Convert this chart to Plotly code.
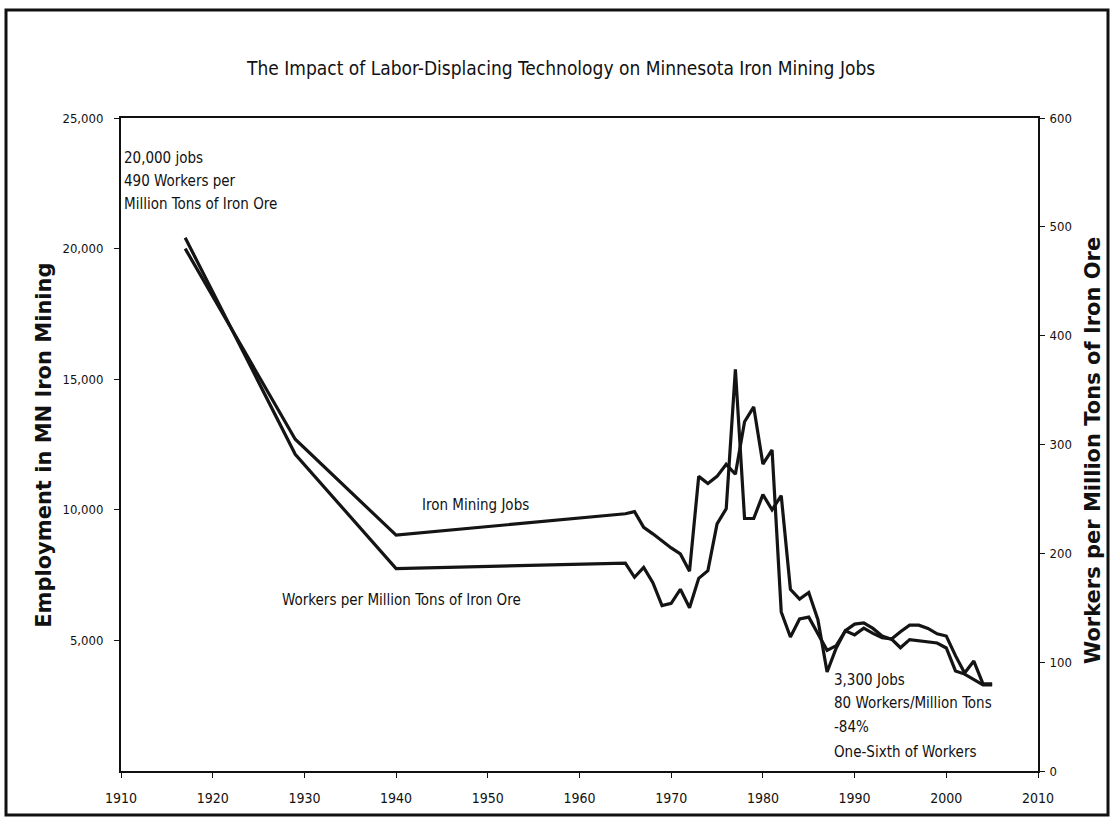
import plotly.graph_objects as go

# Minnesota iron mining employment (left axis)
job_years = [1917, 1929, 1940, 1965, 1966, 1967, 1968, 1969, 1970, 1971, 1972, 1973, 1974,
             1975, 1976, 1977, 1978, 1979, 1980, 1981, 1982, 1983, 1984, 1985, 1986, 1987,
             1988, 1989, 1990, 1991, 1992, 1993, 1994, 1995, 1996, 1997, 1998, 1999, 2000,
             2001, 2002, 2003, 2004, 2005]
jobs = [20000, 12700, 9030, 9850, 9930, 9330, 9080, 8810, 8540, 8310, 7650, 11280, 11010,
        11280, 11740, 11360, 13370, 13940, 11750, 12290, 6090, 5130, 5820, 5890, 5250, 4620,
        4800, 5370, 5210, 5470, 5270, 5100, 5060, 4720, 5030, 4980, 4940, 4900, 4710,
        3830, 3710, 3520, 3300, 3300]

# Workers per million tons of iron ore (right axis)
wpm_years = [1917, 1929, 1940, 1965, 1966, 1967, 1968, 1969, 1970, 1971, 1972, 1973, 1974,
             1975, 1976, 1977, 1978, 1979, 1980, 1981, 1982, 1983, 1984, 1985, 1986, 1987,
             1988, 1989, 1990, 1991, 1992, 1993, 1994, 1995, 1996, 1997, 1998, 1999, 2000,
             2001, 2002, 2003, 2004, 2005]
workers_per_mt = [490, 291, 186, 191, 178, 187, 173, 152, 154, 167, 150, 177, 184,
                  227, 241, 369, 232, 232, 254, 240, 253, 167, 158, 164, 139, 91,
                  113, 129, 135, 136, 131, 124, 121, 128, 134, 134, 131, 126, 124,
                  106, 90, 101, 80, 80]

x_ticks = [1910, 1920, 1930, 1940, 1950, 1960, 1970, 1980, 1990, 2000, 2010]
left_ticks = [5000, 10000, 15000, 20000, 25000]
left_tick_text = ["5,000", "10,000", "15,000", "20,000", "25,000"]
right_ticks = [0, 100, 200, 300, 400, 500, 600]

NARROW = "Liberation Sans Narrow, Arial Narrow, DejaVu Sans Condensed, sans-serif"
WIDE_BOLD = "DejaVu Sans, Verdana, sans-serif"
INK = "#141414"

fig = go.Figure()
fig.add_trace(go.Scatter(x=job_years, y=jobs, mode="lines", name="Iron Mining Jobs",
                         line=dict(color=INK, width=3.2), yaxis="y"))
fig.add_trace(go.Scatter(x=wpm_years, y=workers_per_mt, mode="lines",
                         name="Workers per Million Tons of Iron Ore",
                         line=dict(color=INK, width=3.2), yaxis="y2"))

tick_font = dict(family=NARROW, size=13, color="#111")

fig.update_layout(
    width=1111, height=826,
    margin=dict(l=121, r=73, t=118, b=55),
    paper_bgcolor="white", plot_bgcolor="white",
    showlegend=False,
    xaxis=dict(range=[1910, 2010], tickvals=x_ticks, ticks="outside", ticklen=5,
               tickcolor="#111", showline=True, linecolor="#111", linewidth=2,
               mirror=True, showgrid=False, zeroline=False,
               tickfont=dict(family=NARROW, size=14, color="#111"),
               ticklabelstandoff=8),
    yaxis=dict(range=[0, 25000], tickvals=left_ticks, ticktext=left_tick_text,
               ticks="outside", ticklen=5, tickcolor="#111", showline=True,
               linecolor="#111", linewidth=2, showgrid=False, zeroline=False,
               tickfont=tick_font, ticklabelstandoff=8),
    yaxis2=dict(range=[0, 600], tickvals=right_ticks, overlaying="y", side="right",
                ticks="outside", ticklen=5, tickcolor="#111", showline=True,
                linecolor="#111", linewidth=2, showgrid=False, zeroline=False,
                tickfont=tick_font, ticklabelstandoff=2),
)

annotations = [
    dict(text="The Impact of Labor-Displacing Technology on Minnesota Iron Mining Jobs",
         xref="paper", yref="paper", x=0.479, y=1.096, showarrow=False,
         xanchor="center", font=dict(family=NARROW, size=19, color="#111")),
    dict(text="<b>Employment in MN Iron Mining</b>", xref="paper", yref="paper",
         x=(44 - 121) / 917, y=0.498, textangle=-90, showarrow=False,
         xanchor="center", yanchor="middle",
         font=dict(family=WIDE_BOLD, size=21, color="#111")),
    dict(text="<b>Workers per Million Tons of Iron Ore</b>", xref="paper", yref="paper",
         x=(1093 - 121) / 917, y=0.49, textangle=-90, showarrow=False,
         xanchor="center", yanchor="middle",
         font=dict(family=WIDE_BOLD, size=21, color="#111")),
]

text_font = dict(family=NARROW, size=15, color="#111")
notes = [
    ("20,000 jobs", 1910.1, 23470),
    ("490 Workers per", 1910.1, 22590),
    ("Million Tons of Iron Ore", 1910.1, 21710),
    ("Iron Mining Jobs", 1942.6, 10180),
    ("Workers per Million Tons of Iron Ore", 1927.3, 6550),
    ("3,300 Jobs", 1987.5, 3480),
    ("80 Workers/Million Tons", 1987.5, 2600),
    ("-84%", 1987.5, 1690),
    ("One-Sixth of Workers", 1987.5, 730),
]
for txt, xv, yv in notes:
    annotations.append(dict(text=txt, x=xv, y=yv, xref="x", yref="y", xanchor="left",
                            yanchor="middle", showarrow=False, font=text_font))

fig.update_layout(annotations=annotations)

# outer frame around the whole chart
fig.add_shape(type="rect", xref="paper", yref="paper",
              x0=(6 - 121) / 917, x1=(1108 - 121) / 917,
              y0=(771 - 815) / 653, y1=(771 - 10) / 653,
              line=dict(color="#111", width=3), layer="below")

fig.write_html("out.html")
